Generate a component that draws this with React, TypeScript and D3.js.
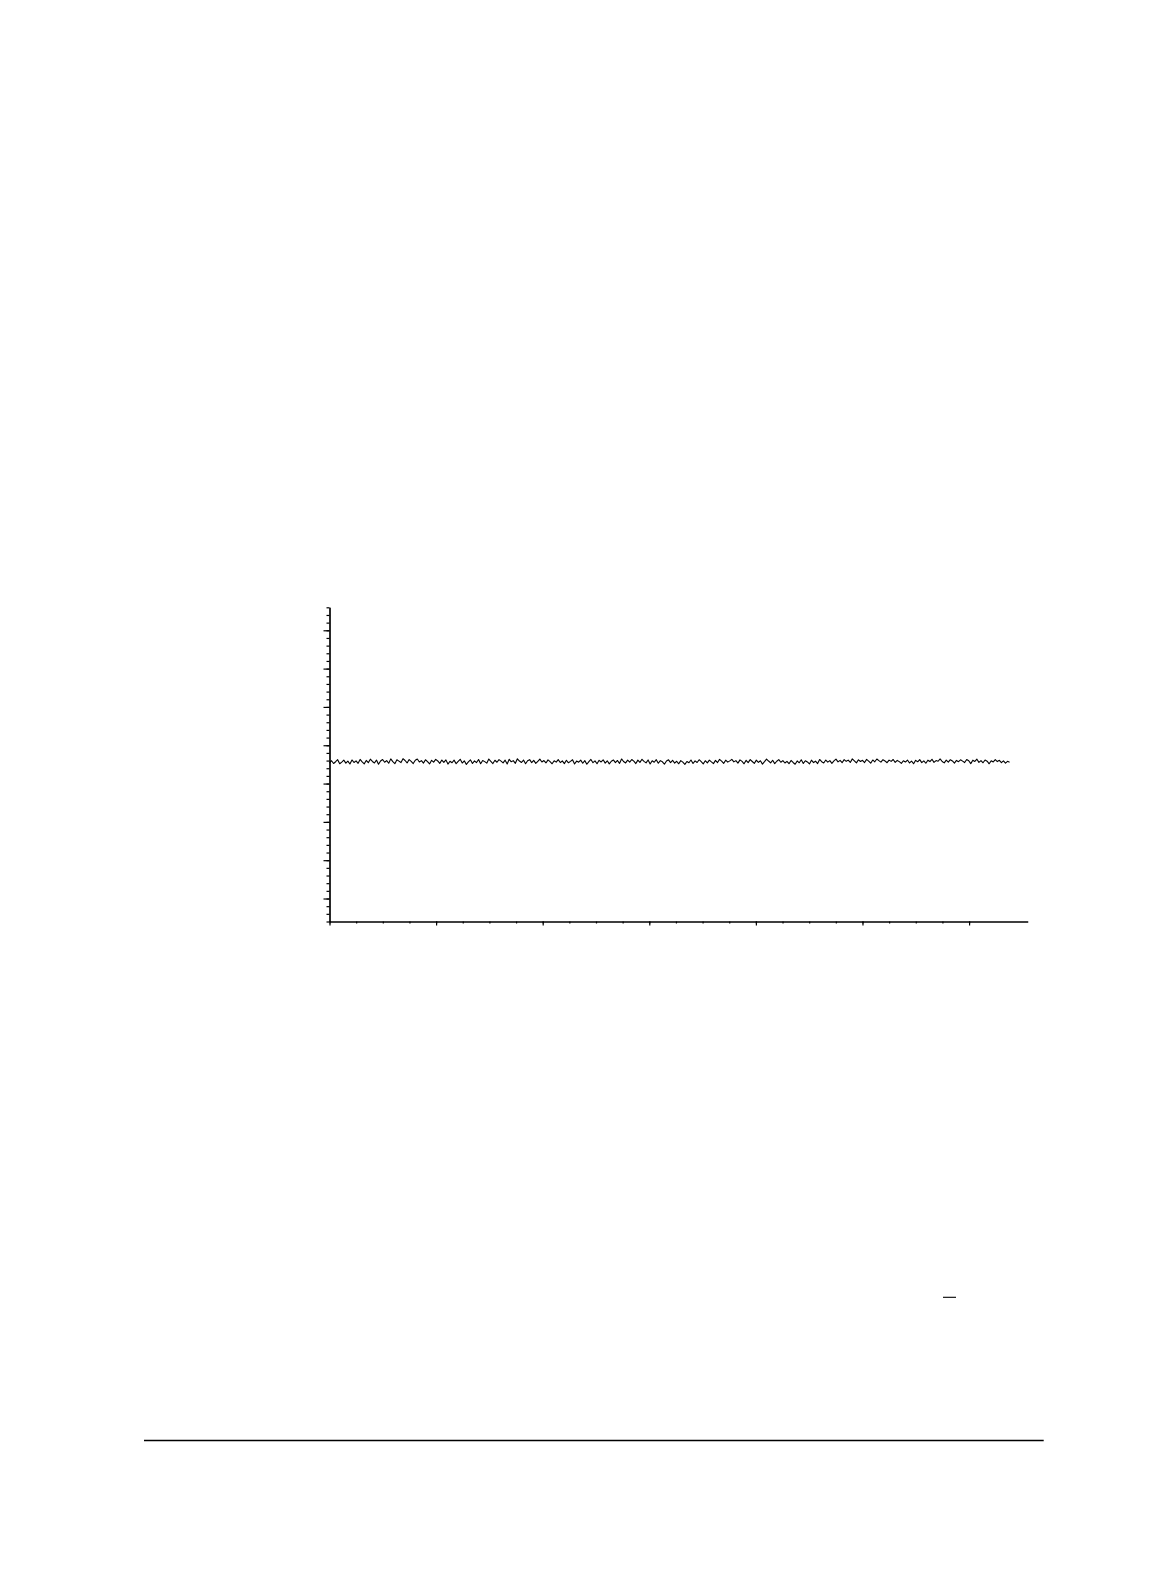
import { useEffect, useRef } from 'react'
import * as d3 from 'd3'

// signal trace (arbitrary units, one minor tick = 1)
const signal: number[] = [
  17.70, 17.98, 17.62, 17.85, 18.12, 17.58, 17.80, 18.05, 17.66, 17.92, 17.55, 18.08, 17.75, 17.96, 17.64, 18.15, 17.83, 17.57, 18.02, 17.72, 18.18, 17.88, 17.68, 18.06, 17.52, 17.94, 18.14, 17.78,
  18.00, 17.65, 18.22, 17.86, 17.60, 18.10, 17.93, 17.74, 18.25, 18.01, 17.69, 18.13, 17.90, 17.61, 18.04, 18.20, 17.82, 17.99, 17.67, 18.11, 17.87, 17.56, 18.03, 17.79, 18.16, 17.95, 17.63, 18.07,
  17.76, 18.09, 17.54, 17.91, 17.71, 18.06, 17.59, 17.88, 18.17, 17.68, 17.97, 17.50, 17.84, 18.10, 17.62, 17.95, 17.74, 18.14, 17.58, 18.01, 17.86, 17.66, 18.19, 17.90, 17.61, 18.04, 17.78, 18.12,
  17.93, 17.70, 18.05, 17.56, 18.16, 17.84, 17.99, 17.64, 18.23, 17.94, 17.75, 18.07, 17.59, 17.97, 18.12, 17.73, 18.03, 17.63, 17.90, 18.18, 17.81, 18.00, 17.69, 18.09, 17.87, 17.58, 17.98, 17.80,
  18.13, 17.74, 17.95, 17.60, 18.04, 17.71, 17.89, 18.11, 17.55, 17.93, 17.79, 18.06, 17.65, 17.99, 17.52, 17.85, 18.15, 17.72, 17.96, 17.59, 18.03, 17.82, 18.10, 17.67, 17.97, 17.57, 17.91, 18.08,
  17.73, 18.01, 17.63, 18.21, 17.88, 17.69, 18.05, 17.80, 18.14, 17.92, 17.61, 18.06, 17.76, 18.17, 17.90, 17.70, 18.08, 17.56, 17.98, 17.78, 18.12, 17.65, 17.99, 17.84, 17.53, 17.95, 18.10, 17.74,
  18.04, 17.67, 17.91, 17.58, 17.99, 17.79, 17.51, 17.88, 17.71, 18.07, 17.62, 17.96, 17.75, 18.11, 17.85, 17.57, 17.98, 17.69, 18.06, 17.82, 17.60, 18.02, 17.74, 18.15, 17.93, 17.64, 18.05, 17.80,
  17.96, 18.16, 17.83, 17.99, 17.67, 18.09, 17.90, 17.58, 18.03, 17.73, 18.13, 17.88, 17.62, 18.06, 17.76, 17.97, 17.54, 17.86, 18.20, 17.94, 17.70, 18.04, 17.60, 17.91, 18.12, 17.78, 18.00, 17.68,
  17.89, 17.59, 18.02, 17.75, 17.52, 17.95, 17.71, 18.10, 17.63, 17.98, 17.82, 17.56, 18.05, 17.74, 17.92, 17.61, 18.14, 17.85, 17.69, 18.07, 17.80, 18.00, 17.64, 17.96, 18.18, 17.83, 18.03, 17.72,
  18.12, 17.90, 18.06, 17.76, 18.22, 17.97, 17.70, 18.10, 17.88, 18.04, 17.74, 18.16, 17.93, 17.66, 18.08, 17.84, 18.20, 17.99, 17.80, 18.11, 17.95, 17.72, 18.06, 17.89, 18.14, 17.77, 18.02, 17.86,
  17.64, 17.98, 17.81, 18.07, 17.69, 17.94, 17.58, 18.03, 17.84, 18.13, 17.73, 17.96, 17.65, 18.05, 17.87, 18.17, 17.76, 18.00, 17.91, 18.21, 17.88, 17.70, 18.06, 17.80, 18.11, 17.95, 17.67, 18.02,
  17.85, 18.10, 17.93, 17.74, 18.14, 17.97, 17.60, 18.05, 17.89, 18.18, 17.77, 18.00, 17.71, 18.08, 17.92, 17.58, 17.98, 17.82, 18.12, 17.87, 18.03, 17.72, 17.96, 17.66, 17.90, 17.79,
]

// time span covered by the trace
const traceStart = 0
const traceEnd = 6.38

// axis ranges and ticks (no labels in the original)
const xDomain: [number, number] = [0, 6.55]
const xMajorTicks = [0, 1, 2, 3, 4, 5, 6]
const xMinorTicks = d3.range(0, 24.01, 1).map(d => d / 4)
const yDomain: [number, number] = [-3, 38]
const yMajorTicks = [0, 5, 10, 15, 20, 25, 30, 35]
const yMinorTicks = d3.range(-3, 39, 1)

export default function App() {
  const svgRef = useRef<SVGSVGElement>(null)

  useEffect(() => {
    if (!svgRef.current) return
    const svg = d3.select(svgRef.current)
    svg.selectAll('*').remove()

    const x = d3.scaleLinear().domain(xDomain).range([329.5, 1027.7])
    const y = d3.scaleLinear().domain(yDomain).range([921.5, 607.3])

    const g = svg.append('g')

    // y axis: minor then major ticks
    g.append('g')
      .attr('transform', `translate(${x(0)},0)`)
      .call(d3.axisLeft(y).tickValues(yMinorTicks).tickSize(3).tickSizeOuter(0).tickFormat(() => ''))
    g.append('g')
      .attr('transform', `translate(${x(0)},0)`)
      .call(d3.axisLeft(y).tickValues(yMajorTicks).tickSize(6).tickSizeOuter(0).tickFormat(() => ''))

    // x axis
    g.append('g')
      .attr('transform', `translate(0,${y(yDomain[0])})`)
      .call(d3.axisBottom(x).tickValues(xMinorTicks).tickSize(2).tickSizeOuter(0).tickFormat(() => ''))
    g.append('g')
      .attr('transform', `translate(0,${y(yDomain[0])})`)
      .call(d3.axisBottom(x).tickValues(xMajorTicks).tickSize(4).tickSizeOuter(0).tickFormat(() => ''))

    g.selectAll('.domain, .tick line').attr('stroke', '#000').attr('stroke-width', 1.2)

    // trace
    const step = (traceEnd - traceStart) / (signal.length - 1)
    const line = d3.line<number>()
      .x((_, i) => x(traceStart + i * step))
      .y(d => y(d))
    g.append('path')
      .datum(signal)
      .attr('d', line)
      .attr('fill', 'none')
      .attr('stroke', '#000')
      .attr('stroke-width', 1.1)
      .attr('stroke-linejoin', 'round')

    // small dash further down the page
    svg.append('line')
      .attr('x1', 943).attr('x2', 956)
      .attr('y1', 1297.3).attr('y2', 1297.3)
      .attr('stroke', '#000').attr('stroke-width', 1.1)

    // page footer rule
    svg.append('line')
      .attr('x1', 144).attr('x2', 1043.7)
      .attr('y1', 1440.5).attr('y2', 1440.5)
      .attr('stroke', '#000').attr('stroke-width', 1.3)
  }, [])

  return (
    <svg
      ref={svgRef}
      width={1150}
      height={1584}
      style={{ position: 'absolute', left: 0, top: 0, display: 'block', background: '#fff' }}
    />
  )
}
